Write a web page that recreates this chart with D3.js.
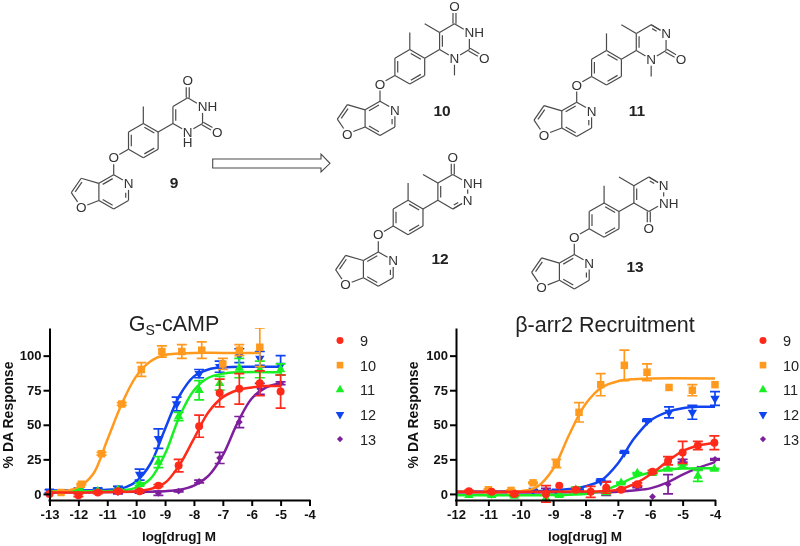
<!DOCTYPE html>
<html><head><meta charset="utf-8">
<script src="https://cdn.jsdelivr.net/npm/d3@7"></script>
<style>html,body{margin:0;padding:0;background:#fff}svg{display:block;filter:blur(0.35px)}text{font-family:"Liberation Sans",Arial,sans-serif}</style>
</head><body><svg id="c" width="800" height="546"></svg>
<script>
// ---- data: [log dose, % response, error]
const seriesNames = ["9","10","11","12","13"];
const seriesColors = ["#ff2a1a","#ff9a1e","#18f024","#1044f0","#7d1f9c"];
const seriesSymbols = [d3.symbolCircle,d3.symbolSquare,d3.symbolTriangle,d3.symbolTriangle,d3.symbolDiamond2||d3.symbolDiamond];
const markerAreas = [50,56,38,38,30];
const legendAreas = [38,44,32,32,24];

const gsPts9 = [[-13,0,0],[-12,-1,1],[-11.33,1,0.8],[-10.63,2,0.8],[-9.88,2,0.8],[-9.23,6,0.8],[-8.53,20.5,4.5],[-7.82,49,8],[-7.11,73,10],[-6.43,76,11],[-5.72,80,9],[-5,74,12]];
const gsPts10 = [[-12.6,1,0],[-11.9,7,0.5],[-11.2,29,1],[-10.5,65,1],[-9.82,90,5],[-9.11,103,4],[-8.42,103,5],[-7.73,104,6],[-7,94,4],[-6.43,104,4],[-5.72,106,14]];
const gsPts11 = [[-12,3,0.5],[-11.33,2,0.5],[-10.63,3,0.5],[-9.88,7,1],[-9.23,23,4],[-8.53,56,3],[-7.82,75,7],[-7.11,80,5],[-6.43,91,7],[-5.72,90,6],[-5,90,4]];
const gsPts12 = [[-13,2,1],[-12,3,1],[-11.33,3,1],[-10.63,4,1.5],[-9.88,14,4],[-9.23,40,7],[-8.6,65,5],[-7.82,87,3],[-7.11,92,4],[-6.43,100,5],[-5.72,98,5],[-5,93,7]];
const gsPts13 = [[-12,2,0.5],[-11.33,2,0.5],[-10.63,1,1],[-9.88,1.5,1],[-9.23,0.5,1.5],[-8.53,2,0.5],[-7.82,9,1],[-7.11,26,4],[-6.43,52,4],[-5.72,76,4],[-5,80,1]];

const gsCurveX9 = [-13,-12,-11,-10.5,-10,-9.5,-9,-8.5,-8,-7.5,-7,-6.5,-6,-5.5,-5];
const gsCurve9 = [1,1,1.3,1.5,2,3.5,8,21,40,59,70,75,77,78,78];
const gsCurveX10 = [-13,-12.5,-12,-11.5,-11,-10.5,-10,-9.5,-9,-8.5,-8,-7,-5.72];
const gsCurve10 = [1.5,2,5,14,39,65,85,96,100.5,101.5,102,102,102];
const gsCurveX11 = [-13,-12,-11,-10.5,-10,-9.5,-9,-8.5,-8,-7.5,-7,-6.5,-5];
const gsCurve11 = [2,2,2,2.5,4.5,11,29,56,75,84,87,88,88];
const gsCurveX12 = [-13,-11,-10.5,-10,-9.5,-9,-8.5,-8,-7.5,-7,-6,-5];
const gsCurve12 = [2.5,3,4,9,22,47,71,85,90,91.5,92,92];
const gsCurveX13 = [-13,-10,-9,-8.5,-8,-7.5,-7,-6.5,-6,-5.5,-5];
const gsCurve13 = [1,1.5,2,3,6,13,28,51,69,77,80];

const arrPts9 = [[-11.6,2,0.5],[-10.9,1.5,0.5],[-10.2,0,1],[-9.22,0,6],[-8.81,6,0],[-8.3,3,1],[-7.84,1.5,4],[-7.36,4.5,4],[-6.9,3,0.5],[-6.4,7,1],[-5.93,16,1],[-5.45,24,3],[-5,30,8],[-4.53,35,3],[-4.02,37,5]];
const arrPts10 = [[-11,3,0.5],[-10.3,2.5,0.5],[-9.62,8,0.5],[-8.9,22,3],[-8.2,59,7],[-7.53,79,8],[-6.8,93,11],[-6.1,88,6],[-5.42,77,0],[-4.7,75,4],[-4,79,0]];
const arrPts11 = [[-11.6,-1,0],[-10.9,-1,0.5],[-10.2,-1.5,0.5],[-9.22,-3,4],[-8.81,-1,0.5],[-8.3,3,2],[-7.36,1,0.5],[-6.9,8,0.5],[-6.4,15,0.5],[-5.93,15,0.5],[-5.45,18,0.5],[-5,20,1],[-4.53,13,4],[-4.02,18,0.5]];
const arrPts12 = [[-10.9,0.5,0.5],[-9.62,2.5,0.5],[-8.9,2,0.5],[-8.2,3,0.5],[-7.53,9.5,0.5],[-6.8,30,0.5],[-6.1,53,0.5],[-5.42,59,4],[-4.7,59,5],[-4,69,5]];
const arrPts13 = [[-11.6,1,0],[-10.9,1,0],[-10.2,1,0],[-9.22,3,1],[-7.36,4,5],[-6.4,5,0.5],[-5.93,-2,0],[-5.45,7,7],[-5,24,1],[-4.53,18,0.5],[-4,25,0.5]];

const arrCurveX9 = [-12,-8,-7.5,-7,-6.5,-6,-5.5,-5,-4.5,-4];
const arrCurve9 = [1.5,1.7,2,3,7,14,23,31,35,37];
const arrCurveX10 = [-12,-10,-9.5,-9,-8.5,-8,-7.5,-7,-6.5,-6,-4];
const arrCurve10 = [1.5,2,5,18,43,65,77,81.5,83,83.5,83.5];
const arrCurveX11 = [-12,-9,-8,-7.5,-7,-6.5,-6,-5.5,-5,-4];
const arrCurve11 = [-1,-0.8,0,2,6.5,12,15.5,17.5,18.3,18.5];
const arrCurveX12 = [-12,-9,-8.5,-8,-7.5,-7,-6.5,-6,-5.5,-5,-4.5,-4];
const arrCurve12 = [1.5,2.5,3.5,5.5,10,22,40,53,59,62,63,63];
const arrCurveX13 = [-12,-8,-7,-6.5,-6,-5.5,-5,-4.5,-4];
const arrCurve13 = [1,1.2,1.5,2.5,4,8,14,19,23];

const yTicks = [0,25,50,75,100];
const gsXTicks = [-13,-12,-11,-10,-9,-8,-7,-6,-5,-4];
const arrXTicks = [-12,-11,-10,-9,-8,-7,-6,-5,-4];

const svg = d3.select("#c");

function chart(o){
  const x = d3.scaleLinear().domain(o.xDomain).range(o.xRange);
  const y = d3.scaleLinear().domain([-4.4,120]).range([500,328]);
  const g = svg.append("g");
  const cid = "clip"+o.id;
  svg.append("clipPath").attr("id",cid).append("rect").attr("x",o.xRange[0]-8).attr("y",328).attr("width",o.xRange[1]-o.xRange[0]+16).attr("height",175);
  const plot = g.append("g").attr("clip-path",`url(#${cid})`);
  const line = d3.line().x(d=>x(d[0])).y(d=>y(d[1])).curve(d3.curveCatmullRom.alpha(0.5));
  for(let i=seriesNames.length-1;i>=0;i--){
    const col = seriesColors[i];
    const s = plot.append("g");
    s.append("path").datum(d3.zip(o.curveX[i],o.curve[i])).attr("d",line).attr("fill","none").attr("stroke",col).attr("stroke-width",2.5);
    s.selectAll(".e").data(o.pts[i].filter(d=>d[2]>0)).join("path")
      .attr("d",d=>{const a=x(d[0]),t=y(d[1]+d[2]),b=y(d[1]-d[2]);return `M${a-5},${t}H${a+5}M${a},${t}V${b}M${a-5},${b}H${a+5}`;})
      .attr("fill","none").attr("stroke",col).attr("stroke-width",1.7);
    s.selectAll(".m").data(o.pts[i]).join("path")
      .attr("d",d3.symbol(seriesSymbols[i],markerAreas[i]))
      .attr("transform",d=>`translate(${x(d[0])},${y(d[1])})${i==3?" rotate(180)":""}`)
      .attr("fill",col);
  }
  const xa = g.append("g").attr("transform","translate(0,500)").call(d3.axisBottom(x).tickValues(o.xTicks).tickFormat(d=>String(d)).tickSize(6).tickSizeOuter(0));
  const ya = g.append("g").attr("transform",`translate(${o.xRange[0]},0)`).call(d3.axisLeft(y).tickValues(yTicks).tickSize(6).tickSizeOuter(0));
  [xa,ya].forEach(a=>{
    a.selectAll("path,line").attr("stroke","#000").attr("stroke-width",2);
    a.selectAll("text").attr("fill","#111").style("font-family",'"Liberation Sans",Arial,sans-serif').style("font-weight","bold").style("font-size","13px");
  });
  xa.selectAll("text").attr("y",10);
  ya.selectAll("text").attr("x",-8);
  xa.select(".domain").attr("d",`M${o.xRange[0]-1},0.5H${o.xRange[1]+1}`);
  g.append("text").attr("transform",`translate(${o.yLabelX},415) rotate(-90)`).attr("text-anchor","middle")
    .attr("font-weight","bold").attr("font-size",14).attr("fill","#111").text("% DA Response");
  g.append("text").attr("x",o.xLabelX).attr("y",541).attr("text-anchor","middle")
    .attr("font-weight","bold").attr("font-size",13.5).attr("fill","#111").text("log[drug] M");
  // legend
  const lg = g.selectAll(".l").data(seriesNames).join("g").attr("transform",(d,i)=>`translate(${o.legX},${340.5+i*24.65})`);
  lg.append("path").attr("d",(d,i)=>d3.symbol(seriesSymbols[i],legendAreas[i])()).attr("transform",(d,i)=>i==3?"rotate(180)":"").attr("fill",(d,i)=>seriesColors[i]);
  lg.append("text").attr("x",20).attr("y",5.5).attr("font-size",14.5).attr("fill","#222").text(d=>d);
}

chart({id:"a",xDomain:[-13,-4],xRange:[49.5,309.5],xTicks:gsXTicks,yLabelX:13,xLabelX:179,legX:340,
  pts:[gsPts9,gsPts10,gsPts11,gsPts12,gsPts13],
  curveX:[gsCurveX9,gsCurveX10,gsCurveX11,gsCurveX12,gsCurveX13],
  curve:[gsCurve9,gsCurve10,gsCurve11,gsCurve12,gsCurve13]});
chart({id:"b",xDomain:[-12,-4],xRange:[456,715],xTicks:arrXTicks,yLabelX:418,xLabelX:585,legX:763,
  pts:[arrPts9,arrPts10,arrPts11,arrPts12,arrPts13],
  curveX:[arrCurveX9,arrCurveX10,arrCurveX11,arrCurveX12,arrCurveX13],
  curve:[arrCurve9,arrCurve10,arrCurve11,arrCurve12,arrCurve13]});

const t1 = svg.append("text").attr("x",174).attr("y",331).attr("text-anchor","middle").attr("font-size",21.5).attr("fill","#222");
t1.append("tspan").text("G");
t1.append("tspan").attr("font-size",14).attr("dy",4).text("S");
t1.append("tspan").attr("dy",-4).text("-cAMP");
svg.append("text").attr("x",605).attr("y",332).attr("text-anchor","middle").attr("font-size",21.5).attr("fill","#222").text("β-arr2 Recruitment");

// ---- molecular structures, in bond-length units around the ether oxygen
const coreAtoms = {eO:[0,0],a1:[.866,-.5],a2:[.866,-1.5],a3:[1.732,-2],a4:[2.598,-1.5],a5:[2.598,-.5],a6:[1.732,0],me:[1.732,-3],
  c4:[0,1],n:[.866,1.5],c6:[.866,2.5],c7:[0,3],c7a:[-.866,2.5],c3a:[-.866,1.5],c3:[-1.9,1.2],c2:[-2.48,2.04],fO:[-1.9,2.9],
  r1:[3.464,-2],r2:[3.464,-3],r3:[4.33,-3.5],r4:[5.196,-3],r5:[5.196,-2],r6:[4.33,-1.5]};
const phC=[1.732,-1], pyC=[0,2], fuC=[-1.5,2.1], rC=[4.33,-2.5];
const coreBonds = [["eO","a1"],["eO","c4"],["a1","a2",2,phC],["a2","a3"],["a3","a4",2,phC],["a4","a5"],["a5","a6",2,phC],["a6","a1"],["a3","me"],["a4","r1"],
  ["c4","n"],["n","c6",2,pyC],["c6","c7"],["c7","c7a",2,pyC],["c7a","c3a"],["c3a","c4",2,pyC],["c3a","c3"],["c3","c2",2,fuC],["c2","fO"],["fO","c7a"]];
const ringBonds = [["r1","r2",2,rC],["r2","r3"],["r3","r4"],["r4","r5"],["r5","r6"],["r6","r1"]];
const labels = {eO:"O",n:"N",fO:"O"};
const me5 = {m5:[2.598,-3.5]}, o4 = {o4:[4.33,-4.5]}, o2={o2:[6.062,-1.5]}, nm={nm:[4.33,-.5]}, o6={o6:[4.33,-.5]};
const molecules = [
  {name:"9",px:[113.7,157.7],b:17.1,lab:[174,188],atoms:{...o4,...o2},
   bonds:[["r3","o4",3],["r5","o2",3]],text:{o4:"O",o2:"O",r4:"NH",r6:"N\nH"}},
  {name:"10",px:[380,84],b:17.2,lab:[442,116],atoms:{...me5,...o4,...o2,...nm},
   bonds:[["r2","m5"],["r3","o4",3],["r5","o2",3],["r6","nm"]],text:{o4:"O",o2:"O",r4:"NH",r6:"N"}},
  {name:"11",px:[576.7,85],b:17.2,lab:[637,116],atoms:{...me5,...o2,...nm},
   bonds:[["r2","m5"],["r3","r4",2,rC],["r5","o2",3],["r6","nm"]],text:{o2:"O",r4:"N",r6:"N"}},
  {name:"12",px:[378.3,234.7],b:17.2,lab:[440,264],atoms:{...me5,...o4},
   bonds:[["r2","m5"],["r3","o4",3],["r5","r6",2,rC]],text:{o4:"O",r4:"NH",r5:"N"}},
  {name:"13",px:[574.3,237.3],b:17.2,lab:[635,272],atoms:{...me5,...o6},
   bonds:[["r2","m5"],["r3","r4",2,rC],["r6","o6",3]],text:{o6:"O",r4:"N",r5:"NH"}}
];
const gray="#4a4a4a";
molecules.forEach(m=>{
  const g = svg.append("g");
  const sx = d3.scaleLinear().domain([0,1]).range([m.px[0],m.px[0]+m.b]);
  const sy = d3.scaleLinear().domain([0,1]).range([m.px[1],m.px[1]+m.b]);
  const atoms = {...coreAtoms,...m.atoms};
  const text = {...labels,...m.text};
  const all = coreBonds.concat(ringBonds,m.bonds);
  const seg=(a,b)=>g.append("line").attr("x1",a[0]).attr("y1",a[1]).attr("x2",b[0]).attr("y2",b[1]).attr("stroke",gray).attr("stroke-width",1.2);
  all.forEach(([p,q,ord,c])=>{
    let A=[sx(atoms[p][0]),sy(atoms[p][1])], B=[sx(atoms[q][0]),sy(atoms[q][1])];
    const d=Math.hypot(B[0]-A[0],B[1]-A[1]), u=[(B[0]-A[0])/d,(B[1]-A[1])/d];
    const cutA=text[p]?6.5:0, cutB=text[q]?6.5:0;
    const A2=[A[0]+u[0]*cutA,A[1]+u[1]*cutA], B2=[B[0]-u[0]*cutB,B[1]-u[1]*cutB];
    if(ord===3){
      const n=[-u[1]*1.5,u[0]*1.5];
      seg([A2[0]+n[0],A2[1]+n[1]],[B2[0]+n[0],B2[1]+n[1]]);
      seg([A2[0]-n[0],A2[1]-n[1]],[B2[0]-n[0],B2[1]-n[1]]);
    } else {
      seg(A2,B2);
      if(ord===2){
        const C=[sx(c[0]),sy(c[1])];
        const mid=[(A[0]+B[0])/2,(A[1]+B[1])/2];
        let n=[-u[1],u[0]];
        if(n[0]*(C[0]-mid[0])+n[1]*(C[1]-mid[1])<0) n=[-n[0],-n[1]];
        const off=2.8,sh=2.8;
        seg([A2[0]+n[0]*off+u[0]*sh,A2[1]+n[1]*off+u[1]*sh],[B2[0]+n[0]*off-u[0]*sh,B2[1]+n[1]*off-u[1]*sh]);
      }
    }
  });
  Object.entries(text).forEach(([k,t])=>{
    const dx=t=="NH"?5:0, ax=sx(atoms[k][0])+dx;
    const te=g.append("text").attr("x",ax).attr("y",sy(atoms[k][1])+4.7).attr("text-anchor","middle")
      .attr("font-size",13.5).attr("fill","#333");
    t.split("\n").forEach((s,i)=>te.append("tspan").attr("x",ax).attr("dy",i?10.6:0).text(s));
  });
  svg.append("text").attr("x",m.lab[0]).attr("y",m.lab[1]).attr("text-anchor","middle").attr("font-weight","bold").attr("font-size",15.5).attr("fill","#222").text(m.name);
});
// open arrow
const arrowPts=[[212.7,159],[321,159],[321,154],[330,163.3],[321,172],[321,168],[212.7,168]];
svg.append("path").attr("d",d3.line()(arrowPts)+"Z").attr("fill","#fff").attr("stroke",gray).attr("stroke-width",1.1);
</script></body></html>
